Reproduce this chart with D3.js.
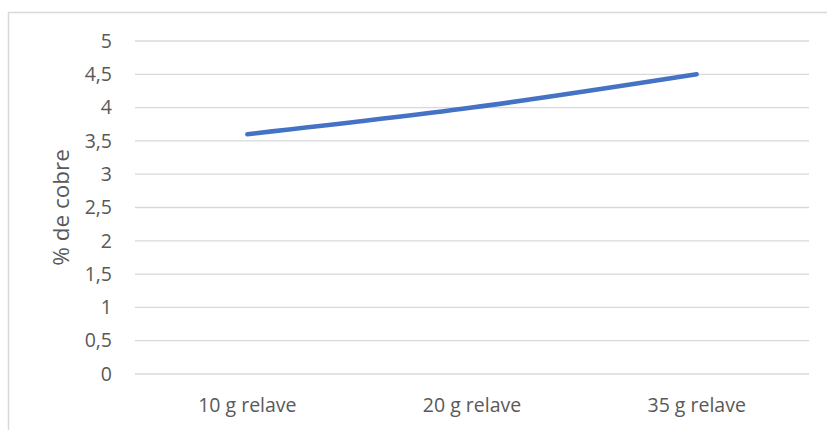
<!DOCTYPE html>
<html>
<head>
<meta charset="utf-8">
<script src="https://cdn.jsdelivr.net/npm/d3@7"></script>
<style>
  html, body { margin: 0; padding: 0; background: #fff; }
  svg { display: block; }
  text { font-family: "Open Sans", "Noto Sans", sans-serif; fill: #595959; }
</style>
</head>
<body>
<svg id="chart" width="827" height="430"></svg>
<script>
// Copper percentage by tailings amount
const categories = ["10 g relave", "20 g relave", "35 g relave"];
const cobre = [3.6, 4.0, 4.5];
const yTicks = [0, 0.5, 1, 1.5, 2, 2.5, 3, 3.5, 4, 4.5, 5];
const yTitle = "% de cobre";

const svg = d3.select("#chart");
const plot = { left: 135, right: 809, top: 41, bottom: 374 };
const fontStack = '"Open Sans", "Noto Sans", sans-serif';

// outer chart frame
svg.append("rect")
  .attr("x", 8.5).attr("y", 12.5)
  .attr("width", 840).attr("height", 440)
  .attr("fill", "none").attr("stroke", "#d9d9d9").attr("stroke-width", 1.5);

const x = d3.scaleBand().domain(categories).range([plot.left, plot.right]);
const y = d3.scaleLinear().domain([0, 5]).range([plot.bottom, plot.top]);

// horizontal gridlines
svg.append("g").selectAll("line").data(yTicks).join("line")
  .attr("x1", plot.left).attr("x2", plot.right)
  .attr("y1", d => y(d)).attr("y2", d => y(d))
  .attr("stroke", "#d9d9d9").attr("stroke-width", 1.3);

// y axis labels
const fmt = d => String(d).replace(".", ",");
const yAxis = svg.append("g").attr("transform", `translate(${plot.left},0)`)
  .call(d3.axisLeft(y).tickValues(yTicks).tickFormat(fmt).tickSize(0).tickPadding(23));
yAxis.select(".domain").remove();
yAxis.selectAll("text").style("font-size", "19.5px").attr("fill", "#595959")
  .style("font-family", fontStack);

// x axis labels
const xAxis = svg.append("g").attr("transform", `translate(0,${plot.bottom})`)
  .call(d3.axisBottom(x).tickSize(0).tickPadding(24));
xAxis.select(".domain").remove();
xAxis.selectAll("text").style("font-size", "19.5px").attr("fill", "#595959")
  .style("font-family", fontStack);

// y axis title
svg.append("text")
  .attr("transform", `translate(69,${(plot.top + plot.bottom) / 2}) rotate(-90)`)
  .attr("text-anchor", "middle")
  .style("font-size", "22.5px")
  .text(yTitle);

// smoothed series line
const line = d3.line()
  .x((d, i) => x(categories[i]) + x.bandwidth() / 2)
  .y(d => y(d))
  .curve(d3.curveCatmullRom.alpha(0.5));

svg.append("path")
  .datum(cobre)
  .attr("d", line)
  .attr("fill", "none")
  .attr("stroke", "#4472c4")
  .attr("stroke-width", 4.5)
  .attr("stroke-linecap", "round")
  .attr("stroke-linejoin", "round");
</script>
</body>
</html>
